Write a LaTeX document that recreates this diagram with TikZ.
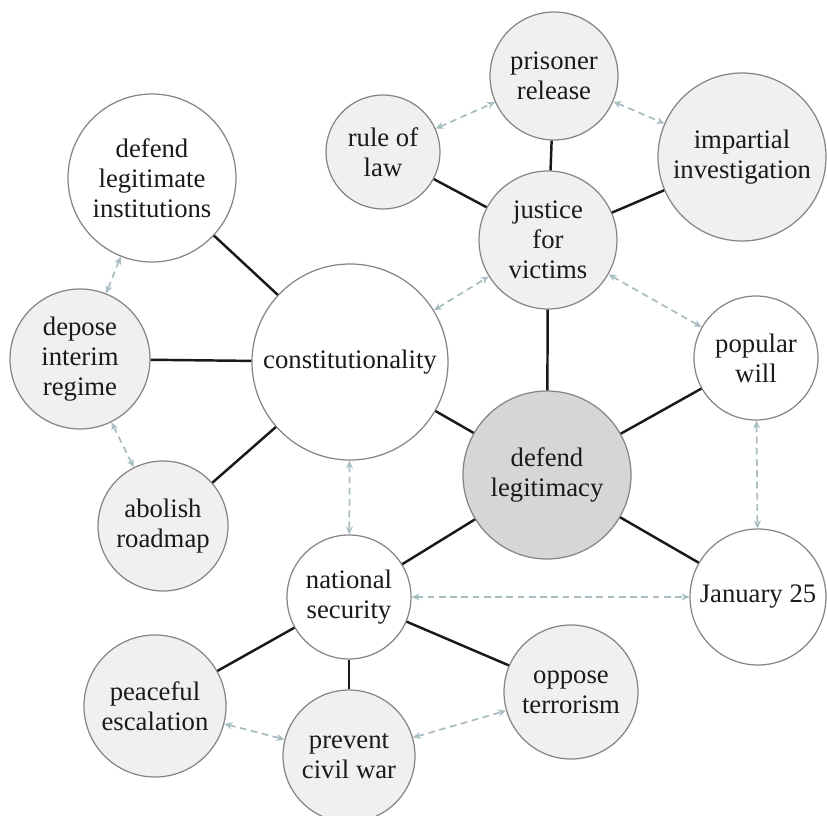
\documentclass[tikz,border=0pt]{standalone}
\usepackage{fontspec}
\setmainfont{Liberation Serif}
\usetikzlibrary{arrows.meta}

\definecolor{rimgray}{HTML}{858585}
\definecolor{softgray}{HTML}{F0F0F0}
\definecolor{coregray}{HTML}{D6D6D6}
\definecolor{linkblue}{HTML}{A9BEC2}
\definecolor{inkgray}{HTML}{1A1A1A}

\begin{document}
\begin{tikzpicture}[
	bubble/.style={circle, draw=rimgray, line width=0.7pt, inner sep=0pt, align=center,
		text=inkgray, font=\fontsize{15.2}{17}\selectfont},
	plain/.style={bubble, fill=white},
	soft/.style={bubble, fill=softgray},
	core/.style={bubble, fill=coregray},
	tie/.style={line width=1.4pt, black!90},
	hint/.style={dash pattern=on 3.8pt off 2.6pt, line width=1pt, draw=linkblue,
		{Stealth[length=4.5pt,width=4pt]}-{Stealth[length=4.5pt,width=4pt]}}
	]
	\useasboundingbox (0,0) rectangle (16.54,-16.32);
	\clip (0,0) rectangle (16.54,-16.32);
	% centre of the map
	\node[core, minimum size=3.36cm] (legit) at (10.94,-9.50) {defend\\legitimacy};
	\node[plain, minimum size=3.92cm] (const) at (7.00,-7.24) {constitutionality};
	\node[soft, minimum size=2.76cm] (justice) at (10.96,-4.80) {justice\\for\\victims};
	\node[plain, minimum size=2.48cm] (popular) at (15.12,-7.16) {popular\\will};
	\node[plain, minimum size=2.72cm] (jan) at (15.16,-11.94) {January 25};
	\node[plain, minimum size=2.48cm] (natsec) at (6.98,-11.94) {national\\security};
	% justice branch
	\node[soft, minimum size=2.56cm] (prisoner) at (11.08,-1.52) {prisoner\\release};
	\node[soft, minimum size=2.28cm] (rulelaw) at (7.66,-3.04) {rule of\\law};
	\node[soft, minimum size=3.36cm] (impartial) at (14.84,-3.14) {impartial\\investigation};
	% constitution branch
	\node[plain, minimum size=3.36cm] (institutions) at (3.04,-3.56) {defend\\legitimate\\institutions};
	\node[soft, minimum size=2.80cm] (depose) at (1.60,-7.18) {depose\\interim\\regime};
	\node[soft, minimum size=2.60cm] (roadmap) at (3.26,-10.52) {abolish\\roadmap};
	% security branch
	\node[soft, minimum size=2.84cm] (peaceful) at (3.10,-14.12) {peaceful\\escalation};
	\node[soft, minimum size=2.64cm] (civilwar) at (6.98,-15.12) {prevent\\civil war};
	\node[soft, minimum size=2.68cm] (terror) at (11.42,-13.84) {oppose\\terrorism};

	% solid ties
	\draw[tie] (legit) -- (const);
	\draw[tie] (legit) -- (justice);
	\draw[tie] (legit) -- (popular);
	\draw[tie] (legit) -- (jan);
	\draw[tie] (legit) -- (natsec);
	\draw[tie] (justice) -- (prisoner);
	\draw[tie] (justice) -- (rulelaw);
	\draw[tie] (justice) -- (impartial);
	\draw[tie] (const) -- (institutions);
	\draw[tie] (const) -- (depose);
	\draw[tie] (const) -- (roadmap);
	\draw[tie] (natsec) -- (peaceful);
	\draw[tie] (natsec) -- (civilwar);
	\draw[tie] (natsec) -- (terror);

	% dashed links
	\draw[hint] (rulelaw) -- (prisoner);
	\draw[hint] (prisoner) -- (impartial);
	\draw[hint] (const) -- (justice);
	\draw[hint] (justice) -- (popular);
	\draw[hint] (popular) -- (jan);
	\draw[hint] (const) -- (natsec);
	\draw[hint] (natsec) -- (jan);
	\draw[hint] (institutions) -- (depose);
	\draw[hint] (depose) -- (roadmap);
	\draw[hint] (peaceful) -- (civilwar);
	\draw[hint] (civilwar) -- (terror);
\end{tikzpicture}
\end{document}
